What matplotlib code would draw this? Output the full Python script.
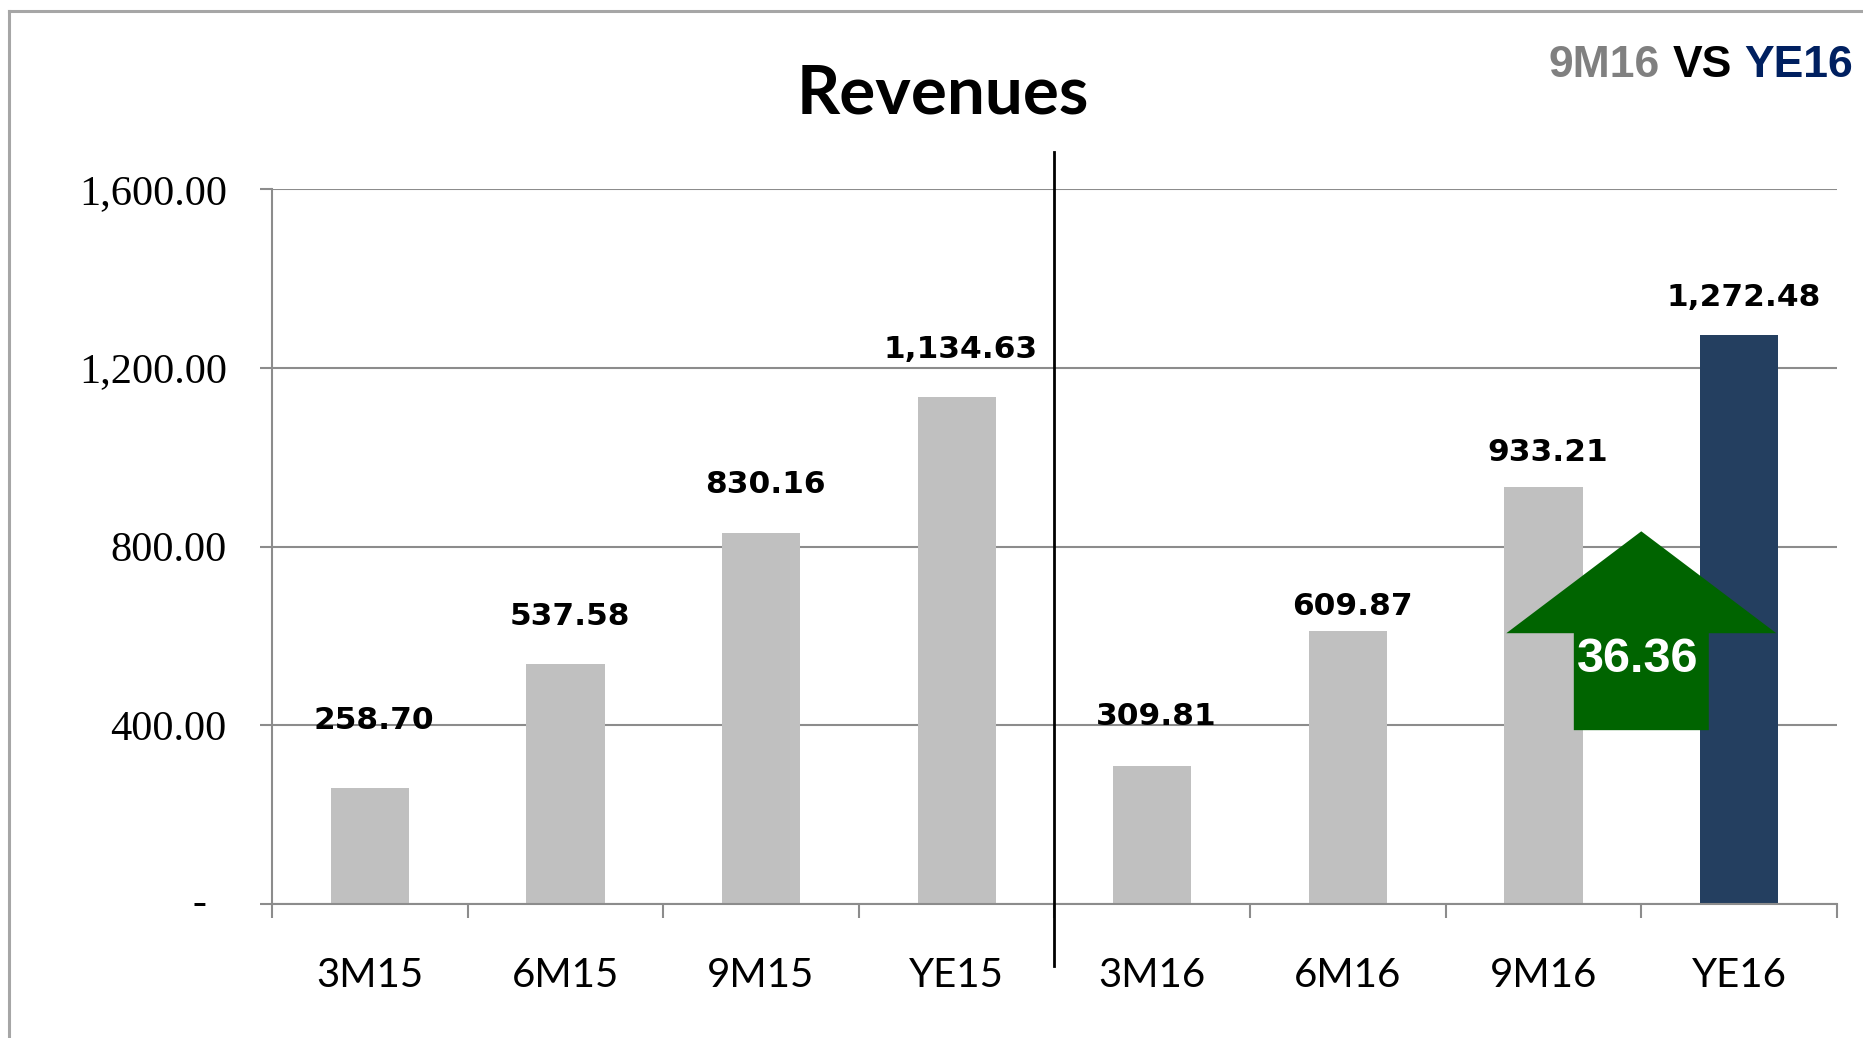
import matplotlib
matplotlib.use("Agg")
import matplotlib.pyplot as plt
from matplotlib.patches import Polygon
from matplotlib.lines import Line2D
from matplotlib.ticker import FixedLocator, FuncFormatter

# data
periods = ["3M15", "6M15", "9M15", "YE15", "3M16", "6M16", "9M16", "YE16"]
revenues = [258.70, 537.58, 830.16, 1134.63, 309.81, 609.87, 933.21, 1272.48]
y_ticks = [0, 400, 800, 1200, 1600]

# label offsets above each bar (points)
label_offsets = [49, 34, 35, 34, 35, 18, 25, 27]

bar_gray = "#c0c0c0"
bar_navy = "#243f60"
grid_gray = "#8c8c8c"

fig = plt.figure(figsize=(18.63, 10.38), dpi=100)
ax = fig.add_axes([0.146, 0.1291, 0.840, 0.6888])

n = len(periods)
xs = list(range(n))
colors = [bar_gray] * (n - 1) + [bar_navy]
ax.bar(xs, revenues, width=0.4, color=colors, zorder=2)

ax.set_xlim(-0.5, n - 0.5)
ax.set_ylim(0, 1600)

# grid and spines
ax.set_yticks(y_ticks)
ax.yaxis.grid(True, color=grid_gray, linewidth=1.5, zorder=0)
ax.set_axisbelow(True)
for s in ["top", "right"]:
    ax.spines[s].set_visible(False)
for s in ["left", "bottom"]:
    ax.spines[s].set_color(grid_gray)
    ax.spines[s].set_linewidth(1.5)

ax.yaxis.set_major_formatter(FuncFormatter(lambda v, p: "" if v == 0 else f"{v:,.2f}"))
ax.tick_params(axis="y", direction="out", length=8.5, width=1.5, color=grid_gray, pad=24)
for lab in ax.get_yticklabels():
    lab.set_fontfamily("Liberation Serif")
    lab.set_fontsize(30.5)
ax.annotate("-", xy=(0, 0), xycoords=("axes fraction", "data"), xytext=(-52, 0),
            textcoords="offset points", ha="center", va="center",
            fontsize=30, family="Liberation Serif", annotation_clip=False)

ax.set_xticks(xs)
ax.set_xticklabels(periods, fontsize=29, family="Lato")
ax.tick_params(axis="x", which="major", length=0, pad=38)
ax.xaxis.set_minor_locator(FixedLocator([i - 0.5 for i in range(n + 1)]))
ax.tick_params(axis="x", which="minor", direction="out", length=10, width=1.5, color=grid_gray)

# value labels
for x, v, off in zip(xs, revenues, label_offsets):
    ax.annotate(f"{v:,.2f}", xy=(x, v), xytext=(3, off), textcoords="offset points",
                ha="center", va="center", fontsize=22.5, fontweight="bold",
                family="DejaVu Sans", zorder=4)

# divider between years
ax.plot([3.5, 3.5], [-139, 1682], color="black", linewidth=2, clip_on=False, zorder=3)

# growth arrow 9M16 -> YE16
i0, i1 = periods.index("9M16"), periods.index("YE16")
growth = (revenues[i1] - revenues[i0]) / revenues[i0] * 100
xc = (i0 + i1) / 2
shaft, head = 0.345, 0.69
y_bot, y_sh, y_tip = 389, 606, 834
arrow = Polygon([(xc - shaft, y_bot), (xc + shaft, y_bot), (xc + shaft, y_sh),
                 (xc + head, y_sh), (xc, y_tip), (xc - head, y_sh),
                 (xc - shaft, y_sh)], closed=True, facecolor="#006400",
                edgecolor="none", zorder=5, clip_on=False)
ax.add_patch(arrow)
ax.text(xc - 0.02, 548, f"{growth:.2f}", ha="center", va="center", color="white",
        fontsize=35, fontweight="bold", family="Liberation Sans", zorder=6)

# title
fig.text(0.506, 0.891, "Revenues", ha="center", va="baseline", fontsize=48.5,
         fontweight="bold", family="Lato")

# top-right caption
t3 = fig.text(0.9946, 0.917, "YE16", ha="right", va="bottom", fontsize=32,
              fontweight="bold", family="Liberation Sans", color="#002060")
t2 = ax.annotate("VS", xy=(0, 0), xycoords=t3, xytext=(-9, 0), textcoords="offset points",
                 ha="right", va="bottom", fontsize=32, fontweight="bold",
                 family="Liberation Sans", color="black")
ax.annotate("9M16", xy=(0, 0), xycoords=t2, xytext=(-9, 0), textcoords="offset points",
            ha="right", va="bottom", fontsize=32, fontweight="bold",
            family="Liberation Sans", color="#808080")

# slide frame (cut at right and bottom)
frame = "#a6a6a6"
fig.add_artist(Line2D([9 / 1863, 1], [1 - 11 / 1038, 1 - 11 / 1038], color=frame, linewidth=2.2))
fig.add_artist(Line2D([9 / 1863, 9 / 1863], [0, 1 - 11 / 1038], color=frame, linewidth=2.2))

fig.savefig("out.png", dpi=100)
